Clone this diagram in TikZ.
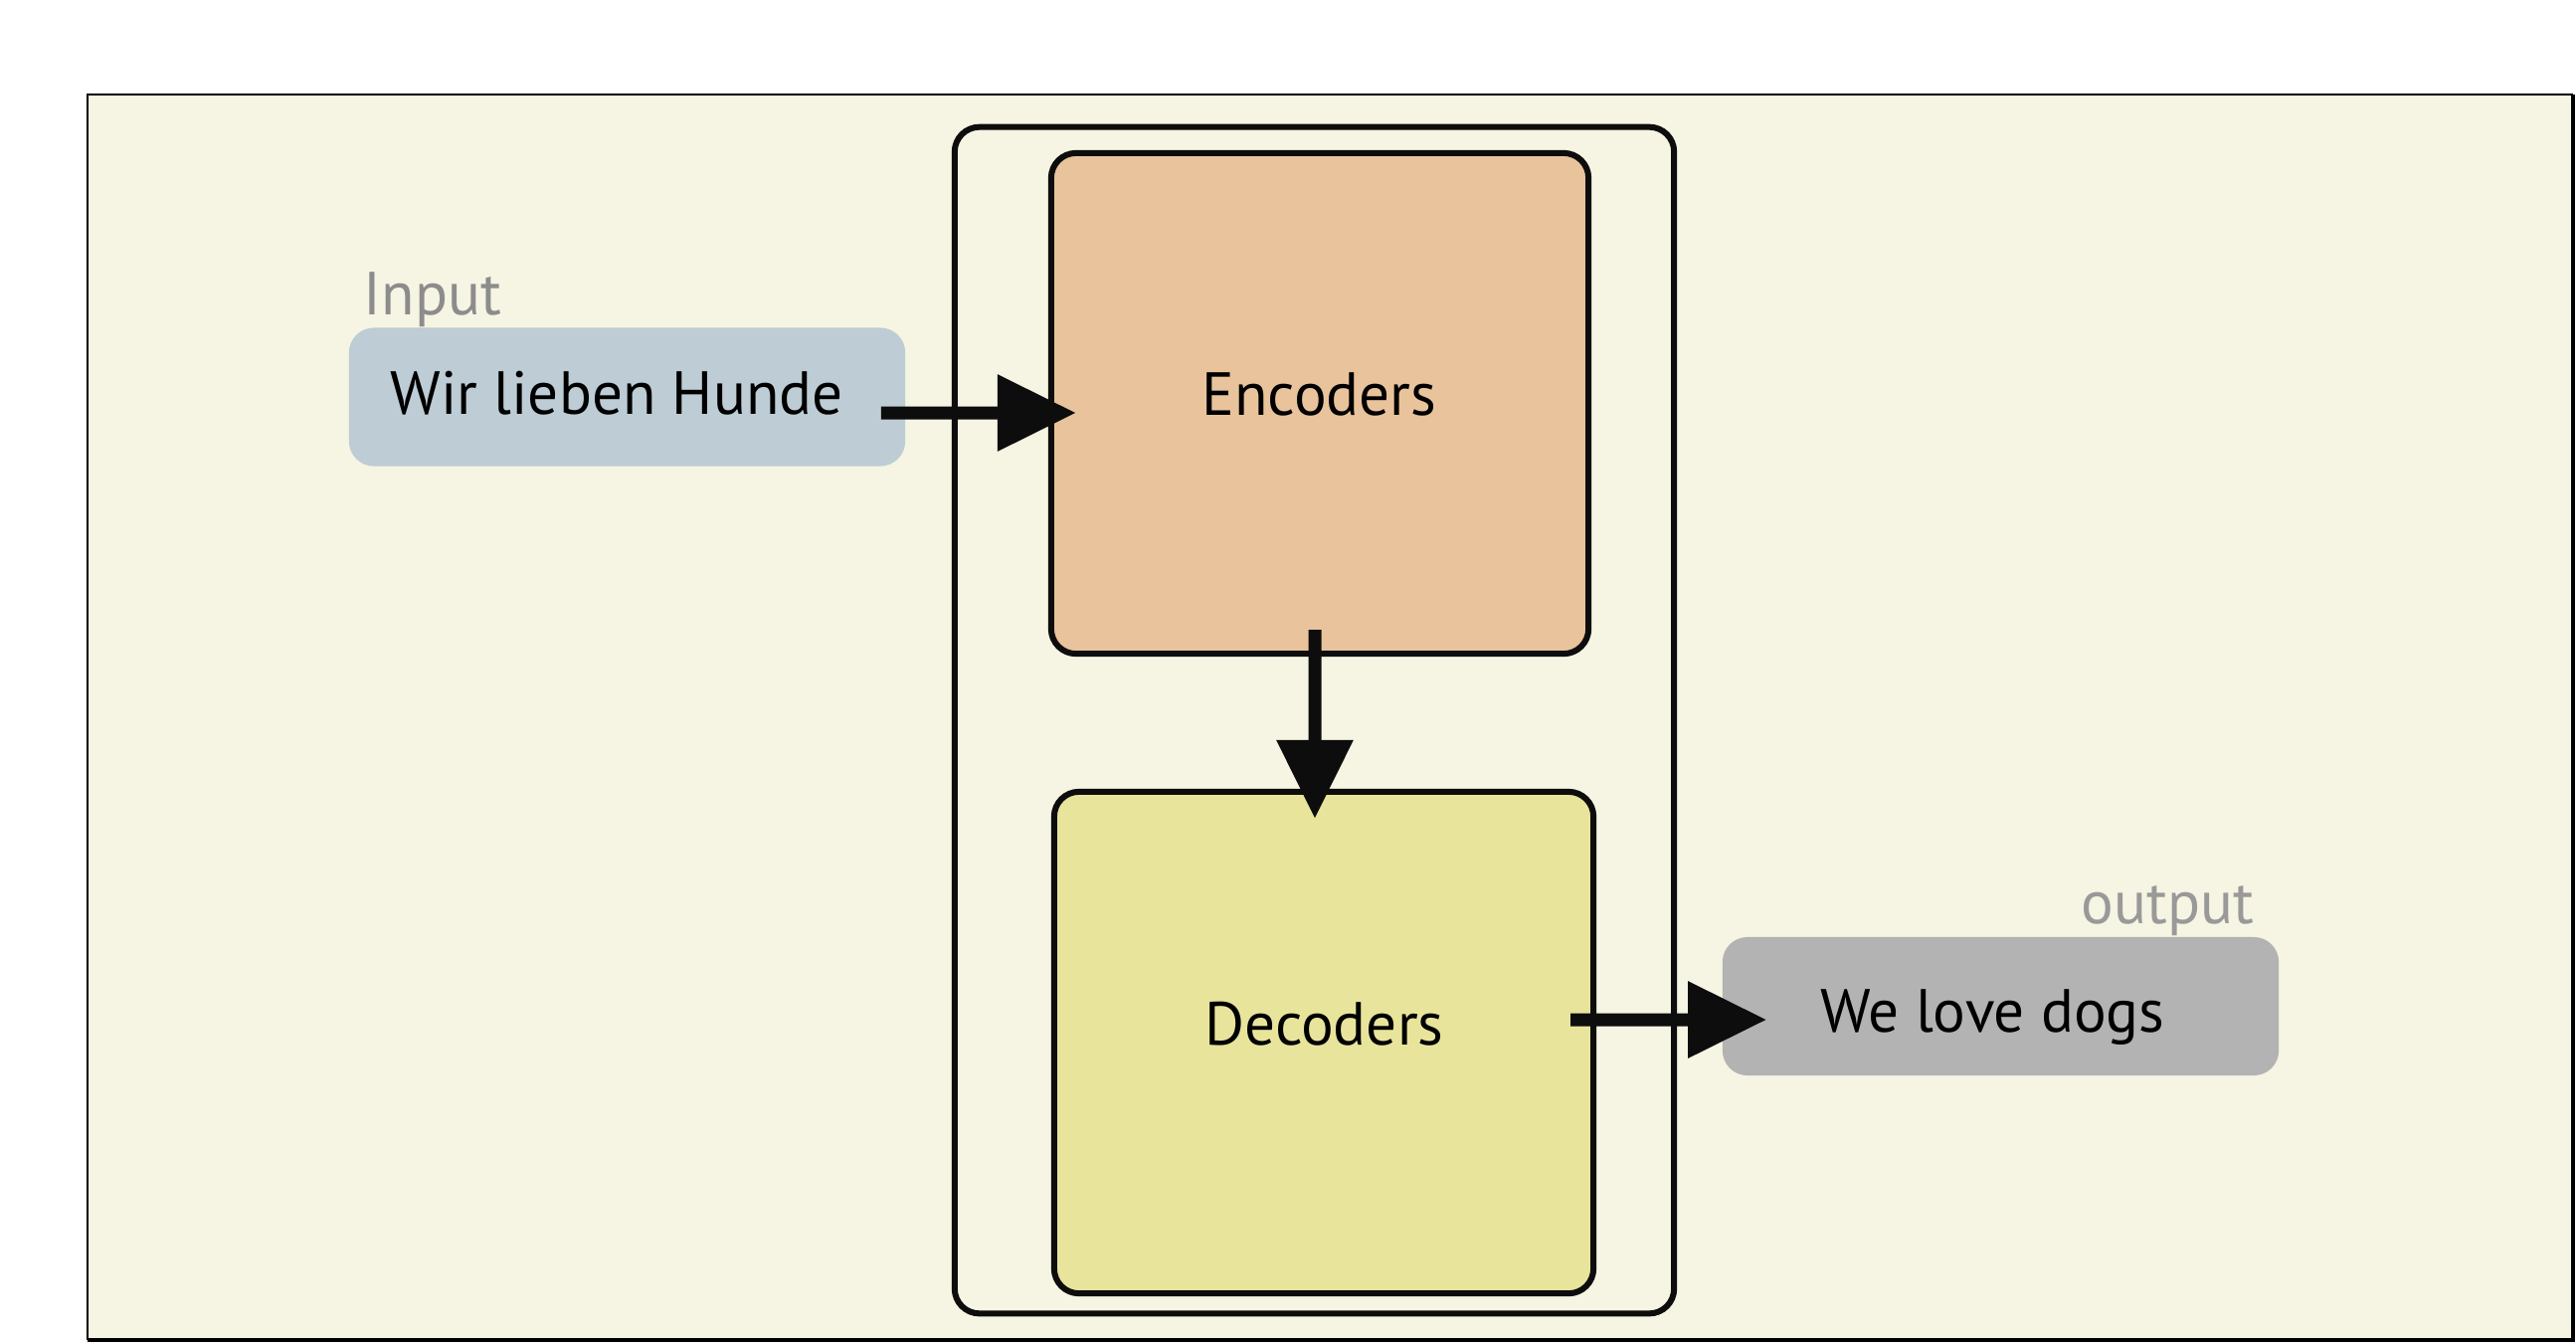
\documentclass[tikz,border=0pt]{standalone}
\usepackage{fontspec}
\setmainfont{PT Sans}
\usetikzlibrary{arrows.meta}
\definecolor{cream}{HTML}{F6F4E2}
\definecolor{encfill}{HTML}{E9C39C}
\definecolor{decfill}{HTML}{E8E49C}
\definecolor{inpfill}{HTML}{BDCCD5}
\definecolor{outfill}{HTML}{B3B3B3}
\definecolor{lblgrey}{HTML}{8C8C8C}
\definecolor{lblgrey2}{HTML}{999999}
\definecolor{arrblack}{HTML}{0D0D0D}
\tikzset{
  bigbox/.style={draw=black!95, line width=0.06cm, rounded corners=0.25cm, inner sep=0pt},
  iobox/.style={rounded corners=0.25cm, inner sep=0pt, minimum width=5.59cm, minimum height=1.39cm},
  txt/.style={inner sep=0pt, anchor=base, font=\fontsize{17.4pt}{20pt}\selectfont},
  arr/.style={draw=arrblack, line width=0.13cm, -{Triangle[length=0.79cm,width=0.74cm]}}
}
\begin{document}
\begin{tikzpicture}[x=0.01cm, y=-0.01cm]
\useasboundingbox (0,0) rectangle (2590,1350);
\fill[white] (0,0) rectangle (2590,1350);
\fill[cream] (88,95) rectangle (2587,1347);
\draw[line width=0.025cm] (2587,95) -- (88,95) -- (88,1347);
\draw[line width=0.04cm] (2587,95) -- (2587,1347) -- (88,1347);
% outer container
\node[bigbox, minimum width=7.23cm, minimum height=11.92cm] (outer) at (1321.5,724) {};
% encoder / decoder
\node[bigbox, fill=encfill, minimum width=5.40cm, minimum height=5.03cm] (enc) at (1327,405.5) {};
\node[bigbox, fill=decfill, minimum width=5.42cm, minimum height=5.04cm] (dec) at (1331,1048) {};
\node[txt] (enctxt) at (1326.5,417) {Encoders};
\node[txt] (dectxt) at (1331.5,1050) {Decoders};
% input / output
\node[iobox, fill=inpfill] (inp) at (630.5,399) {};
\node[iobox, fill=outfill] (outp) at (2011.5,1011.5) {};
\node[txt] (inptxt) at (620,416) {Wir lieben Hunde};
\node[txt] (outtxt) at (2003.5,1037) {We love dogs};
\node[txt, text=lblgrey] (inlbl) at (435,316) {Input};
\node[txt, anchor=base east, text=lblgrey2] (outlbl) at (2267,928) {output};
% arrows
\draw[arr] ([xshift=-0.25cm,yshift=-0.16cm]inp.east) -- ([xshift=0.28cm,yshift=-0.095cm]enc.west);
\draw[arr] ([xshift=-0.05cm,yshift=0.27cm]enc.south) -- ([xshift=-0.09cm,yshift=-0.30cm]dec.north);
\draw[arr] ([xshift=-0.26cm,yshift=0.23cm]dec.east) -- ([xshift=0.45cm,yshift=-0.135cm]outp.west);
\end{tikzpicture}
\end{document}
